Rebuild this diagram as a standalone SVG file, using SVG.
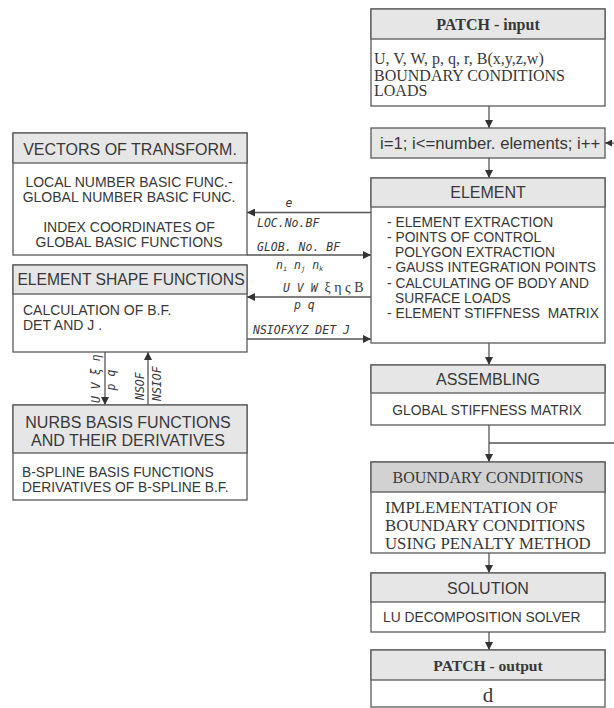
<svg xmlns="http://www.w3.org/2000/svg" width="614" height="708" viewBox="0 0 614 708">
<style>
.box{fill:#ffffff;stroke:#5a5a5a;stroke-width:1.3}
.hdr{fill:#e6e6e6;stroke:#5a5a5a;stroke-width:1.3}
.hdr2{fill:#d2d2d2;stroke:#5a5a5a;stroke-width:1.3}
.sans{font-family:"Liberation Sans",Arial,sans-serif;fill:#383838}
.serif{font-family:"Liberation Serif","Times New Roman",serif;fill:#383838}
.h{font-size:16px}
.b{font-size:13.8px}
.c{text-anchor:middle}
.lbl{font-family:"DejaVu Sans Mono","Liberation Mono",monospace;font-style:italic;font-size:11.5px;fill:#383838}
.ln{stroke:#555;stroke-width:1.3;fill:none}
</style>
<defs>
<marker id="ah" viewBox="0 0 10 10" refX="10" refY="5" markerWidth="8" markerHeight="8" markerUnits="userSpaceOnUse" orient="auto">
<path d="M0,0 L10,5 L0,10 z" fill="#333"/>
</marker>
<marker id="ahs" viewBox="0 0 10 10" refX="10" refY="5" markerWidth="7" markerHeight="7" markerUnits="userSpaceOnUse" orient="auto">
<path d="M0,0 L10,5 L0,10 z" fill="#333"/>
</marker>
</defs>

<g id="connectors">
<line class="ln" x1="489" y1="106" x2="489" y2="128" marker-end="url(#ah)"/>
<line class="ln" x1="489" y1="158" x2="489" y2="178" marker-end="url(#ah)"/>
<line class="ln" x1="489" y1="343" x2="489" y2="365" marker-end="url(#ah)"/>
<line class="ln" x1="489" y1="425" x2="489" y2="462" marker-end="url(#ah)"/>
<line class="ln" x1="489" y1="443" x2="614" y2="443"/>
<line class="ln" x1="614" y1="143" x2="605" y2="143" marker-end="url(#ahs)"/>
<line class="ln" x1="489" y1="553" x2="489" y2="573" marker-end="url(#ah)"/>
<line class="ln" x1="489" y1="632" x2="489" y2="650" marker-end="url(#ah)"/>

<line class="ln" x1="371" y1="212.5" x2="247" y2="212.5" marker-end="url(#ah)"/>
<text class="lbl" x="289" y="207" text-anchor="middle">e</text>
<text class="lbl" x="257" y="227">LOC.No.BF</text>

<line class="ln" x1="247" y1="255" x2="371" y2="255" marker-end="url(#ah)"/>
<text class="lbl" x="257" y="251">GLOB. No. BF</text>
<text class="lbl" x="276" y="269">n<tspan font-size="7" dy="2">i</tspan><tspan dy="-2"> n</tspan><tspan font-size="7" dy="2">j</tspan><tspan dy="-2"> n</tspan><tspan font-size="7" dy="2">k</tspan></text>

<line class="ln" x1="371" y1="297" x2="247" y2="297" marker-end="url(#ah)"/>
<text class="lbl" x="283" y="292">U V W <tspan font-family="Liberation Serif,serif" font-style="normal" font-size="14">ξ η ς B</tspan></text>
<text class="lbl" x="294" y="309">p q</text>

<line class="ln" x1="247" y1="339" x2="371" y2="339" marker-end="url(#ah)"/>
<text class="lbl" x="253" y="334">NSIOFXYZ DET J</text>

<line class="ln" x1="105" y1="352" x2="105" y2="405" marker-end="url(#ah)"/>
<line class="ln" x1="148" y1="405" x2="148" y2="352" marker-end="url(#ah)"/>
<text class="lbl" transform="translate(100,403) rotate(-90)">U V ξ η</text>
<text class="lbl" text-anchor="middle" transform="translate(115,380) rotate(-90)">p q</text>
<text class="lbl" transform="translate(144,400) rotate(-90)">NSOF</text>
<text class="lbl" transform="translate(161,401) rotate(-90)">NSIOF</text>
</g>

<g id="patch-input">
<rect class="box" x="371" y="9" width="234" height="97"/>
<rect class="hdr" x="371" y="9" width="234" height="30"/>
<text class="serif c" x="488" y="30" font-size="16" font-weight="bold">PATCH - input</text>
<text class="serif" x="374" y="63.5" font-size="16">U, V, W, p, q, r, B(x,y,z,w)</text>
<text class="serif" x="374" y="80.5" font-size="16">BOUNDARY CONDITIONS</text>
<text class="serif" x="374" y="96" font-size="16">LOADS</text>
</g>

<g id="loop">
<rect class="hdr" x="371" y="128" width="234" height="30"/>
<text class="sans" x="380" y="149" font-size="16.7">i=1; i&lt;=number. elements; i++</text>
</g>

<g id="element">
<rect class="box" x="371" y="178" width="234" height="165"/>
<rect class="hdr" x="371" y="178" width="234" height="29"/>
<text class="sans h c" x="488" y="198">ELEMENT</text>
<text class="sans b" x="387" y="227">- ELEMENT EXTRACTION</text>
<text class="sans b" x="387" y="242">- POINTS OF CONTROL</text>
<text class="sans b" x="395" y="257">POLYGON EXTRACTION</text>
<text class="sans b" x="387" y="272">- GAUSS INTEGRATION POINTS</text>
<text class="sans b" x="387" y="288">- CALCULATING OF BODY AND</text>
<text class="sans b" x="395" y="303">SURFACE LOADS</text>
<text class="sans b" x="387" y="318" xml:space="preserve">- ELEMENT STIFFNESS  MATRIX</text>
</g>

<g id="assembling">
<rect class="box" x="371" y="365" width="234" height="60"/>
<rect class="hdr" x="371" y="365" width="234" height="28"/>
<text class="sans h c" x="488" y="385">ASSEMBLING</text>
<text class="sans b c" x="487" y="415">GLOBAL STIFFNESS MATRIX</text>
</g>

<g id="boundary-conditions">
<rect class="box" x="371" y="462" width="234" height="91"/>
<rect class="hdr2" x="371" y="462" width="234" height="30"/>
<text class="serif c" x="488" y="483" font-size="16">BOUNDARY CONDITIONS</text>
<text class="serif" x="385" y="513" font-size="16.8">IMPLEMENTATION OF</text>
<text class="serif" x="385" y="531" font-size="16.8">BOUNDARY CONDITIONS</text>
<text class="serif" x="385" y="549" font-size="16.8">USING PENALTY METHOD</text>
</g>

<g id="solution">
<rect class="box" x="371" y="573" width="234" height="59"/>
<rect class="hdr" x="371" y="573" width="234" height="29"/>
<text class="sans h c" x="488" y="594">SOLUTION</text>
<text class="sans b" x="383" y="622">LU DECOMPOSITION SOLVER</text>
</g>

<g id="patch-output">
<rect class="box" x="371" y="650" width="234" height="57"/>
<rect class="hdr" x="371" y="650" width="234" height="30"/>
<text class="serif c" x="488" y="671" font-size="15.6" font-weight="bold">PATCH - output</text>
<text class="serif c" x="488" y="702" font-size="21">d</text>
</g>

<g id="vectors">
<rect class="box" x="13" y="133" width="234" height="122"/>
<rect class="hdr" x="13" y="133" width="234" height="30"/>
<text class="sans c" x="130" y="155" font-size="16">VECTORS OF TRANSFORM.</text>
<text class="sans c" x="129" y="187" font-size="14">LOCAL NUMBER BASIC FUNC.-</text>
<text class="sans c" x="129" y="202" font-size="14">GLOBAL NUMBER BASIC FUNC.</text>
<text class="sans c" x="129" y="232" font-size="14">INDEX COORDINATES OF</text>
<text class="sans c" x="129" y="247" font-size="14">GLOBAL BASIC FUNCTIONS</text>
</g>

<g id="shape-functions">
<rect class="box" x="13" y="265" width="234" height="87"/>
<rect class="hdr" x="13" y="265" width="234" height="29"/>
<text class="sans c" x="131" y="285" font-size="15.7">ELEMENT SHAPE FUNCTIONS</text>
<text class="sans" x="23" y="315" font-size="14">CALCULATION OF B.F.</text>
<text class="sans" x="23" y="330" font-size="14">DET AND J .</text>
</g>

<g id="nurbs">
<rect class="box" x="13" y="405" width="234" height="95"/>
<rect class="hdr" x="13" y="405" width="234" height="48"/>
<text class="sans c" x="128" y="428" font-size="16">NURBS BASIS FUNCTIONS</text>
<text class="sans c" x="128" y="446" font-size="16">AND THEIR DERIVATIVES</text>
<text class="sans" x="22" y="477" font-size="13.8">B-SPLINE BASIS FUNCTIONS</text>
<text class="sans" x="22" y="492" font-size="13.8">DERIVATIVES OF B-SPLINE B.F.</text>
</g>
</svg>
